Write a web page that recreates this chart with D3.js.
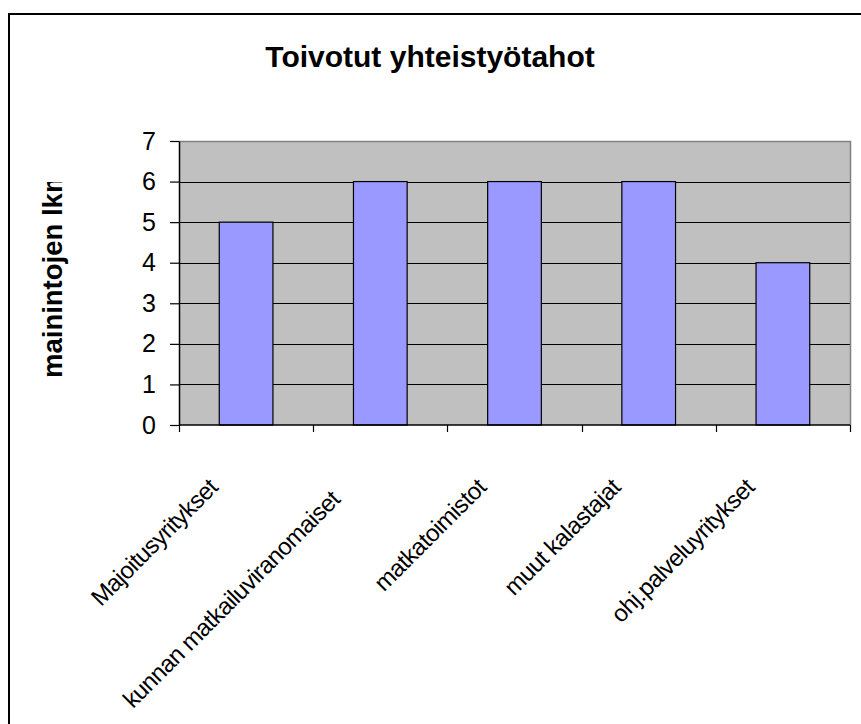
<!DOCTYPE html>
<html>
<head>
<meta charset="utf-8">
<script src="https://cdn.jsdelivr.net/npm/d3@7"></script>
<style>
  html, body { margin: 0; padding: 0; background: #fff; overflow: hidden; }
  svg { display: block; font-family: "Liberation Sans", Arial, sans-serif; }
</style>
</head>
<body>
<div id="chart"></div>
<script>
// --- data ---
const categories = [
  "Majoitusyritykset",
  "kunnan matkailuviranomaiset",
  "matkatoimistot",
  "muut kalastajat",
  "ohj.palveluyritykset"
];
const counts = [5, 6, 6, 6, 4];
const yTicks = [0, 1, 2, 3, 4, 5, 6, 7];

const titleText = "Toivotut yhteistyötahot";
const yTitleText = "mainintojen lkm";

const width = 861, height = 724;
const plot = { left: 179, right: 850, top: 141, bottom: 425 };

const svg = d3.select("#chart").append("svg")
  .attr("width", width)
  .attr("height", height);

// chart frame: only left and top edges fall inside the picture
svg.append("path")
  .attr("d", `M9,${height}V14H${width}`)
  .attr("fill", "none")
  .attr("stroke", "#000")
  .attr("stroke-width", 2);

const x = d3.scaleBand()
  .domain(categories)
  .range([plot.left, plot.right])
  .paddingInner(0.6)
  .paddingOuter(0.3);

const y = d3.scaleLinear()
  .domain([0, 7])
  .range([plot.bottom, plot.top]);

// plot background
svg.append("rect")
  .attr("x", plot.left).attr("y", y(7))
  .attr("width", plot.right - plot.left)
  .attr("height", y(0) - y(7))
  .attr("fill", "#c0c0c0");

// gridlines
svg.append("g")
  .selectAll("line")
  .data(yTicks.filter(d => d > 0 && d < 7))
  .join("line")
  .attr("x1", plot.left).attr("x2", plot.right)
  .attr("y1", d => Math.round(y(d)) + 0.5)
  .attr("y2", d => Math.round(y(d)) + 0.5)
  .attr("stroke", "#000")
  .attr("stroke-width", 1);

// gray plot border top + right
svg.append("path")
  .attr("d", `M${plot.left},${Math.round(y(7)) + 0.5}H${plot.right + 0.5}V${plot.bottom}`)
  .attr("fill", "none")
  .attr("stroke", "#808080")
  .attr("stroke-width", 1.5);

// bars
svg.append("g")
  .selectAll("rect")
  .data(categories)
  .join("rect")
  .attr("x", d => x(d))
  .attr("y", (d, i) => y(counts[i]))
  .attr("width", x.bandwidth())
  .attr("height", (d, i) => y(0) - y(counts[i]))
  .attr("fill", "#9999ff")
  .attr("stroke", "#000")
  .attr("stroke-width", 1.2);

// y axis
const yAxis = svg.append("g")
  .attr("transform", `translate(${plot.left},0)`)
  .call(d3.axisLeft(y).tickValues(yTicks).tickFormat(d3.format("d")).tickSizeInner(9).tickSizeOuter(0).tickPadding(14));
yAxis.select(".domain").attr("stroke", "#000").attr("stroke-width", 1.5);
yAxis.selectAll(".tick line").attr("stroke", "#000").attr("stroke-width", 1.2);
yAxis.selectAll(".tick text")
  .attr("font-size", 25)
  .attr("fill", "#000")
  .attr("font-family", "Liberation Sans, Arial, sans-serif");

// x axis line + category boundary ticks
const boundaries = d3.range(categories.length + 1).map(i => plot.left + i * x.step());
svg.append("line")
  .attr("x1", plot.left).attr("x2", plot.right)
  .attr("y1", y(0)).attr("y2", y(0))
  .attr("stroke", "#000").attr("stroke-width", 1.5);
svg.append("g")
  .selectAll("line")
  .data(boundaries)
  .join("line")
  .attr("x1", d => Math.round(d) + 0.5).attr("x2", d => Math.round(d) + 0.5)
  .attr("y1", y(0)).attr("y2", y(0) + 7)
  .attr("stroke", "#000").attr("stroke-width", 1.2);

// rotated category labels
svg.append("g")
  .selectAll("text")
  .data(categories)
  .join("text")
  .attr("text-anchor", "end")
  .attr("font-size", 24)
  .attr("letter-spacing", -0.6)
  .attr("fill", "#000")
  .attr("transform", (d, i) => {
    // the long second label sits a little further down-left in the original
    const shift = d.length > 20 ? 12 : 0;
    return `translate(${x(d) + x.bandwidth() / 2 - 27 - shift},${y(0) + 64 + shift}) rotate(-45)`;
  })
  .text(d => d);

// title
svg.append("text")
  .attr("x", 430).attr("y", 67)
  .attr("text-anchor", "middle")
  .attr("font-size", 30)
  .attr("font-weight", "bold")
  .text(titleText);

// y axis title, clipped at the top like the original
svg.append("clipPath").attr("id", "ytclip")
  .append("rect").attr("x", 0).attr("y", 182).attr("width", 120).attr("height", 400);
svg.append("g")
  .attr("clip-path", "url(#ytclip)")
  .append("text")
  .attr("transform", "translate(62,378) rotate(-90)")
  .attr("font-size", 27.5)
  .attr("font-weight", "bold")
  .text(yTitleText);
</script>
</body>
</html>
